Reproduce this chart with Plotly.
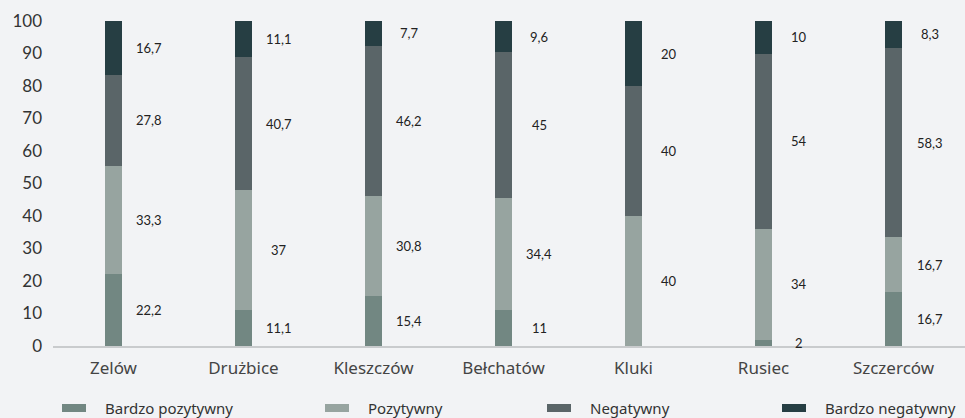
import plotly.graph_objects as go

categories = ["Zelów", "Drużbice", "Kleszczów", "Bełchatów", "Kluki", "Rusiec", "Szczerców"]
series_names = ["Bardzo pozytywny", "Pozytywny", "Negatywny", "Bardzo negatywny"]
bardzo_pozytywny = [22.2, 11.1, 15.4, 11, 0, 2, 16.7]
pozytywny = [33.3, 37, 30.8, 34.4, 40, 34, 16.7]
negatywny = [27.8, 40.7, 46.2, 45, 40, 54, 58.3]
bardzo_negatywny = [16.7, 11.1, 7.7, 9.6, 20, 10, 8.3]
y_ticks = [0, 10, 20, 30, 40, 50, 60, 70, 80, 90, 100]

series_values = [bardzo_pozytywny, pozytywny, negatywny, bardzo_negatywny]
colors = ["#728782", "#97a4a0", "#5a6568", "#263e43"]

W, H = 965, 418
ML, MR, MT, MB = 53, 0, 21, 72
plot_w = W - ML - MR
plot_h = H - MT - MB

fig = go.Figure()
for name, vals, col in zip(series_names, series_values, colors):
    fig.add_trace(go.Bar(
        x=categories, y=vals, name=name, marker=dict(color=col, line=dict(width=0)),
        width=0.13, showlegend=False, hoverinfo="x+y+name",
    ))

annotations = []
for i, cat in enumerate(categories):
    base = 0.0
    for vals in series_values:
        v = vals[i]
        if v > 0:
            annotations.append(dict(
                x=cat, y=base + v / 2, xref="x", yref="y",
                text=f"{v:g}".replace(".", ","), showarrow=False,
                xanchor="center", yanchor="middle", xshift=36,
                font=dict(family="Lato, sans-serif", size=13, color="#222222"),
            ))
        base += v

# custom legend (wide short swatches)
legend_marker_px = [62, 325, 547, 782]
legend_text_px = [103, 366, 588, 823]
legend_y_px = 408
shapes = []
def px_to_paper_x(px):
    return (px - ML) / plot_w
def px_to_paper_y(py):
    return (H - MB - py) / plot_h

for name, col, mx, tx in zip(series_names, colors, legend_marker_px, legend_text_px):
    shapes.append(dict(
        type="rect", xref="paper", yref="paper",
        x0=px_to_paper_x(mx), x1=px_to_paper_x(mx + 24),
        y0=px_to_paper_y(legend_y_px + 4), y1=px_to_paper_y(legend_y_px - 4),
        fillcolor=col, line=dict(width=0),
    ))
    annotations.append(dict(
        x=px_to_paper_x(tx), y=px_to_paper_y(legend_y_px), xref="paper", yref="paper",
        text=name, showarrow=False, xanchor="left", yanchor="middle",
        font=dict(family="Noto Sans, sans-serif", size=15, color="#333333"),
    ))

fig.update_layout(
    barmode="stack",
    width=W, height=H,
    margin=dict(l=ML, r=MR, t=MT, b=MB, pad=0, autoexpand=False),
    paper_bgcolor="#f2f3f5", plot_bgcolor="#f2f3f5",
    annotations=annotations, shapes=shapes,
    showlegend=False,
)
fig.update_xaxes(
    range=[-0.465, 6.55], showgrid=False, zeroline=False, automargin=False,
    showline=True, linecolor="#c9cbcd", linewidth=1.5,
    ticks="", tickfont=dict(family="Noto Sans, sans-serif", size=17, color="#444444"),
    ticklabelstandoff=6,
)
fig.update_yaxes(
    range=[0, 100], tickvals=y_ticks, showgrid=False, zeroline=False, automargin=False,
    showline=False, ticks="",
    tickfont=dict(family="Lato, sans-serif", size=17, color="#333333"),
    ticklabelstandoff=10,
)

fig.write_html(
    "out.html",
    config={"displayModeBar": False},
    post_script="document.body.style.margin='0';document.body.style.background='#f2f3f5';",
)
